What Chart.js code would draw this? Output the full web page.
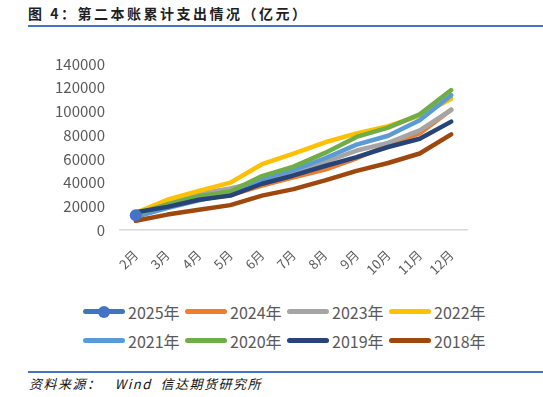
<!DOCTYPE html>
<html><head><meta charset="utf-8">
<script src="https://cdn.jsdelivr.net/npm/chart.js@4.4.1/dist/chart.umd.min.js"></script>
<style>
html,body{margin:0;padding:0;width:543px;height:397px;overflow:hidden;background:#fff;font-family:"Noto Sans CJK SC","Noto Sans",sans-serif;}
#title{position:absolute;left:28px;top:3px;font-size:14px;font-weight:bold;letter-spacing:2.5px;color:#1f1f1f;white-space:pre;line-height:20px}
#rule1{position:absolute;left:28px;top:25px;width:515px;height:2px;background:#4472C4}
#wrap{position:absolute;left:0;top:40px;width:543px;height:250px}
#legend{position:absolute;left:83px;top:297px;width:440px}
.row{height:29px;display:flex;align-items:center}
.item{width:102px;display:flex;align-items:center;font-size:16px;color:#595959;white-space:nowrap}
.sw{position:relative;width:42px;height:5px;border-radius:3px;margin-right:3px;flex:none}
.dot{position:absolute;left:15px;top:-3.5px;width:12px;height:12px;border-radius:50%}
#rule2{position:absolute;left:28px;top:371px;width:515px;height:2px;background:#4472C4}
#src{position:absolute;left:29px;top:375px;font-size:13px;font-style:italic;white-space:pre;letter-spacing:1.5px;color:#111;line-height:18px}
</style></head>
<body>
<div id="title">图 4：第二本账累计支出情况（亿元）</div>
<div id="rule1"></div>
<div id="wrap"><canvas id="c" width="543" height="250"></canvas></div>
<div id="legend"></div>
<div id="rule2"></div>
<div id="src">资料来源：   Wind  信达期货研究所</div>
<script>
const months = ['2月','3月','4月','5月','6月','7月','8月','9月','10月','11月','12月'];
const seriesNames = ['2025年','2024年','2023年','2022年','2021年','2020年','2019年','2018年'];
const s2025 = [12500];
const s2024 = [13500, 19500, 26000, 29500, 37500, 44500, 51000, 60500, 71500, 81500, 101500];
const s2023 = [13000, 23000, 30500, 35000, 41500, 48500, 57500, 67000, 73500, 84000, 101300];
const s2022 = [14500, 25500, 33000, 40000, 55500, 64500, 74000, 81500, 87500, 96500, 110600];
const s2021 = [11000, 18500, 25000, 30500, 43000, 50500, 60500, 72000, 79500, 92500, 113700];
const s2020 = [13500, 21500, 28500, 32500, 45500, 53500, 65000, 78500, 86300, 97500, 118000];
const s2019 = [15000, 19500, 25500, 29000, 39000, 46000, 54000, 61500, 70000, 77000, 91400];
const s2018 = [7800, 13000, 17000, 21000, 29000, 34500, 41800, 49900, 56500, 64500, 80600];
const yTicks = [0, 20000, 40000, 60000, 80000, 100000, 120000, 140000];

const seriesValues = [s2025, s2024, s2023, s2022, s2021, s2020, s2019, s2018];
const colors = ['#4472C4','#ED7D31','#A5A5A5','#FFC000','#5B9BD5','#70AD47','#264478','#9E480E'];
const F = '"Noto Sans CJK SC","Noto Sans",sans-serif';

const datasets = seriesNames.map((name, i) => ({
  label: name,
  data: seriesValues[i],
  borderColor: colors[i],
  backgroundColor: colors[i],
  borderWidth: 4.5,
  borderCapStyle: 'round',
  borderJoinStyle: 'round',
  pointRadius: i === 0 ? 6 : 0,
  pointHoverRadius: 0,
  pointBorderWidth: 0,
  tension: 0,
  order: i === 0 ? -1 : 8 - i
}));

const chart = new Chart(document.getElementById('c'), {
  type: 'line',
  data: { labels: months, datasets },
  options: {
    responsive: false,
    animation: false,
    devicePixelRatio: 1,
    layout: { padding: { top: 17, right: 76, left: 0, bottom: 0 } },
    plugins: { legend: { display: false }, tooltip: { enabled: false } },
    scales: {
      x: {
        offset: true,
        grid: { display: false, drawTicks: false },
        border: { display: true, color: '#D9D9D9', width: 1.5 },
        ticks: { minRotation: 45, maxRotation: 45, padding: 17, color: '#595959', font: { size: 13, family: F } },
        afterFit(s) { s.height = 60; }
      },
      y: {
        min: yTicks[0], max: yTicks[yTicks.length - 1],
        grid: { display: false, drawTicks: false },
        border: { display: false },
        afterBuildTicks(s) { s.ticks = yTicks.map(v => ({ value: v })); },
        ticks: { padding: 15, color: '#595959', font: { size: 15, family: F }, callback: v => String(v) },
        afterFit(s) { s.width = 120; }
      }
    }
  }
});

// HTML legend built from the chart's datasets
const leg = document.getElementById('legend');
let row;
chart.data.datasets.forEach((ds, i) => {
  if (i % 4 === 0) { row = document.createElement('div'); row.className = 'row'; leg.appendChild(row); }
  const it = document.createElement('div'); it.className = 'item';
  const sw = document.createElement('span'); sw.className = 'sw'; sw.style.background = ds.borderColor;
  if (ds.pointRadius > 0) { const d = document.createElement('span'); d.className = 'dot'; d.style.background = ds.borderColor; sw.appendChild(d); }
  const t = document.createElement('span'); t.textContent = ds.label;
  it.appendChild(sw); it.appendChild(t); row.appendChild(it);
});
</script>
</body></html>
